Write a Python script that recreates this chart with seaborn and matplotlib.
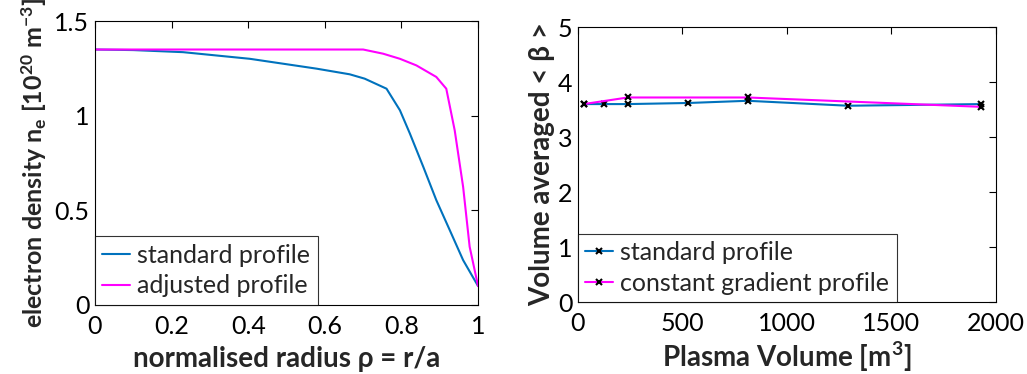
import numpy as np
import pandas as pd
import matplotlib
matplotlib.use("Agg")
import matplotlib.pyplot as plt
import seaborn as sns

# left panel: density profiles
rho_std = [0.0, 0.1, 0.23, 0.404, 0.578, 0.665, 0.704, 0.761, 0.796, 0.822, 0.857, 0.891, 0.926, 0.961, 1.0]
ne_std = [1.35, 1.347, 1.336, 1.301, 1.249, 1.219, 1.196, 1.143, 1.029, 0.906, 0.730, 0.554, 0.396, 0.237, 0.10]
rho_adj = [0.0, 0.3, 0.6, 0.70, 0.752, 0.796, 0.839, 0.891, 0.917, 0.939, 0.961, 0.978, 1.0]
ne_adj = [1.35, 1.35, 1.35, 1.35, 1.328, 1.301, 1.266, 1.205, 1.143, 0.923, 0.624, 0.308, 0.10]

# right panel: volume averaged beta
vol_std = [27, 123, 238, 528, 812, 1292, 1930]
beta_std = [3.60, 3.60, 3.60, 3.62, 3.66, 3.57, 3.60]
vol_cg = [27, 238, 812, 1930]
beta_cg = [3.60, 3.72, 3.72, 3.55]

blue = "#0072BD"
magenta = "#FF00FF"

sns.set_style("white")
plt.rcParams["font.family"] = ["Lato", "DejaVu Sans"]
plt.rcParams["mathtext.fontset"] = "custom"
plt.rcParams["mathtext.rm"] = "Lato"
plt.rcParams["mathtext.bf"] = "Lato:bold"
plt.rcParams["mathtext.it"] = "Lato:italic"

fig = plt.figure(figsize=(10.27, 3.74), dpi=100)
ax1 = fig.add_axes([0.0925, 0.1845, 0.373, 0.759])
ax2 = fig.add_axes([0.5628, 0.1925, 0.407, 0.735])

df1 = pd.DataFrame({"x": rho_std, "y": ne_std})
df2 = pd.DataFrame({"x": rho_adj, "y": ne_adj})
sns.lineplot(data=df1, x="x", y="y", ax=ax1, color=blue, lw=1.5, label="standard profile", sort=False)
sns.lineplot(data=df2, x="x", y="y", ax=ax1, color=magenta, lw=1.5, label="adjusted profile", sort=False)

df3 = pd.DataFrame({"x": vol_std, "y": beta_std})
df4 = pd.DataFrame({"x": vol_cg, "y": beta_cg})
sns.lineplot(data=df3, x="x", y="y", ax=ax2, color=blue, lw=1.5, marker="x", markersize=4,
             markeredgecolor="black", markeredgewidth=1.5, label="standard profile", sort=False)
sns.lineplot(data=df4, x="x", y="y", ax=ax2, color=magenta, lw=1.5, marker="x", markersize=4,
             markeredgecolor="black", markeredgewidth=1.5, label="constant gradient profile", sort=False)

ax1.set_xlim(0, 1)
ax1.set_ylim(0, 1.5)
ax1.set_xticks([0, 0.2, 0.4, 0.6, 0.8, 1])
ax1.set_xticklabels(["0", "0.2", "0.4", "0.6", "0.8", "1"])
ax1.set_yticks([0, 0.5, 1, 1.5])
ax1.set_yticklabels(["0", "0.5", "1", "1.5"])
ax1.set_xlabel("normalised radius ρ = r/a", fontsize=20, fontweight="bold", labelpad=6)
ax1.set_ylabel(r"electron density n$_\mathbf{e}$ [10$^\mathbf{20}$ m$^\mathbf{-3}$]",
               fontsize=18, fontweight="bold", labelpad=4)

ax2.set_xlim(0, 2000)
ax2.set_ylim(0, 5)
ax2.set_xticks([0, 500, 1000, 1500, 2000])
ax2.set_yticks([0, 1, 2, 3, 4, 5])
ax2.set_xlabel(r"Plasma Volume [m$^\mathbf{3}$]", fontsize=20, fontweight="bold", labelpad=4)
ax2.set_ylabel("Volume averaged < β >", fontsize=20, fontweight="bold", labelpad=2)

for ax in (ax1, ax2):
    ax.tick_params(direction="in", length=5, width=0.8, labelsize=18, top=True, right=True,
                   colors="black")
    ax.tick_params(axis="x", pad=7)
    ax.tick_params(axis="y", pad=4)
    for s in ax.spines.values():
        s.set_color("black")
        s.set_linewidth(0.8)
    leg = ax.legend(loc="lower left", fontsize=18, frameon=True, fancybox=False,
                    borderaxespad=0, handlelength=1.1, handletextpad=0.3, borderpad=0.3,
                    labelspacing=0.3)
    leg.get_frame().set_edgecolor("black")
    leg.get_frame().set_linewidth(0.8)

fig.savefig("out.png", dpi=100)
